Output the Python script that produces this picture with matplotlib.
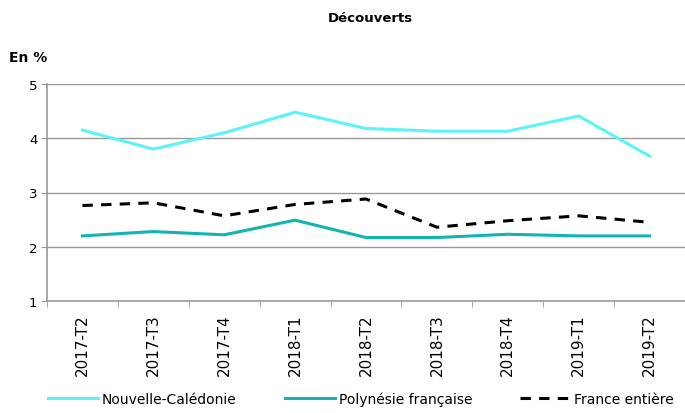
import matplotlib.pyplot as plt

periods = ["2017-T2", "2017-T3", "2017-T4", "2018-T1", "2018-T2",
           "2018-T3", "2018-T4", "2019-T1", "2019-T2"]
nouvelle_caledonie = [4.15, 3.80, 4.10, 4.48, 4.18, 4.13, 4.13, 4.41, 3.67]
polynesie = [2.20, 2.28, 2.22, 2.49, 2.17, 2.17, 2.23, 2.20, 2.20]
france = [2.76, 2.81, 2.57, 2.78, 2.88, 2.36, 2.48, 2.57, 2.45]

fig = plt.figure(figsize=(6.85, 4.14), dpi=100)
ax = fig.add_axes([47 / 685, 1 - 302 / 414, 1 - 47 / 685, (302 - 85) / 414])

x = list(range(len(periods)))
ax.plot(x, nouvelle_caledonie, color="#5BF3FA", lw=2.2, label="Nouvelle-Calédonie")
ax.plot(x, polynesie, color="#12B3B3", lw=2.2, label="Polynésie française")
ax.plot(x, france, color="black", lw=2.2, dashes=(3.4, 2.7), label="France entière")

ax.set_xlim(-0.5, len(periods) - 0.5)
ax.set_ylim(1, 5)
ax.set_yticks([1, 2, 3, 4, 5])
ax.set_xticks(x)
ax.set_xticklabels(periods, rotation=90, fontsize=11)
ax.set_xticks([i - 0.5 for i in range(len(periods) + 1)], minor=True)
ax.tick_params(axis="x", which="major", length=0, pad=9)
ax.tick_params(axis="x", which="minor", length=4, color="#999999", direction="out")
ax.tick_params(axis="y", length=4, color="#999999", labelsize=9.5, pad=3)

# grey horizontal grid
for v in [2, 3, 4, 5]:
    ax.axhline(v, color="#999999", lw=1, zorder=0)
for s in ["top", "right"]:
    ax.spines[s].set_visible(False)
for s in ["left", "bottom"]:
    ax.spines[s].set_color("#999999")
    ax.spines[s].set_linewidth(1.2)

fig.text(370 / 685, 1 - 18 / 414, "Découverts", ha="center", va="center",
         fontsize=9.5, fontweight="bold")
fig.text(9 / 685, 1 - 58 / 414, "En %", ha="left", va="center",
         fontsize=10, fontweight="bold")

fig.legend(loc="center", bbox_to_anchor=(361 / 685, 1 - 400 / 414), ncol=3,
           frameon=False, fontsize=10, handlelength=3.6, columnspacing=3.45,
           handletextpad=0.3)

fig.savefig("out.png", dpi=100)
